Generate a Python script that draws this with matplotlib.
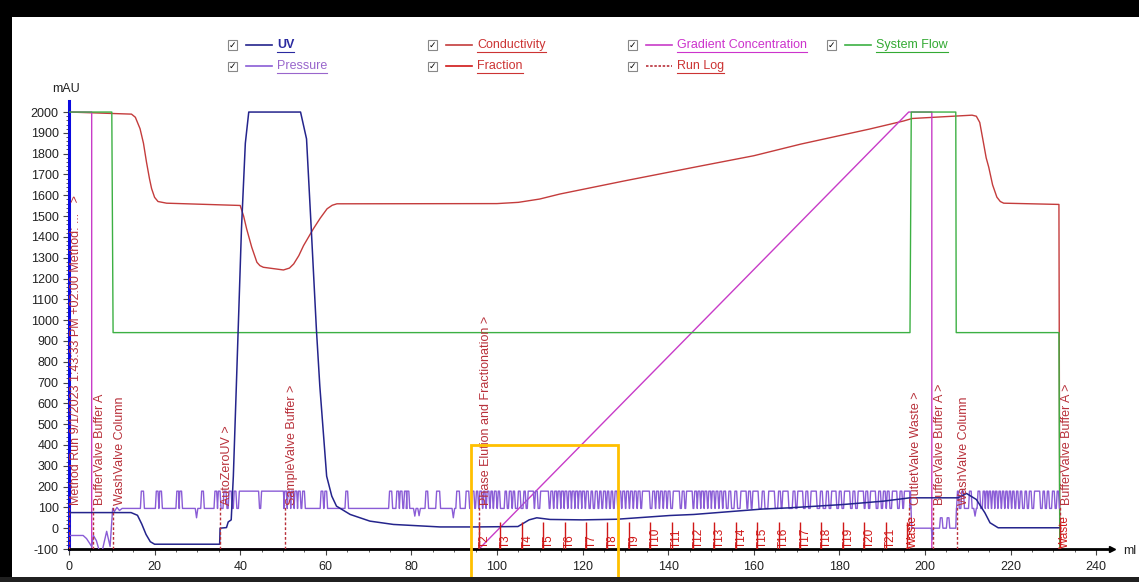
import matplotlib
matplotlib.use("Agg")
import matplotlib.pyplot as plt
from matplotlib.lines import Line2D
from matplotlib.patches import Rectangle

plt.rcParams['font.family'] = ['Liberation Sans', 'DejaVu Sans']
plt.rcParams['axes.unicode_minus'] = False

# ---- data (ml, mAU-scale) ----
uv_ml = [0, 10, 14.5, 16, 17, 18, 19, 20, 35.2, 35.3, 36.8, 37.2, 37.9, 38.4, 39.1, 40.3,
         41.2, 42.0, 54.1, 55.5, 56.6, 57.8, 58.6, 60.2, 61.4, 62.5, 65.7, 70.3, 75.8,
         86.7, 95, 104.9, 107.5, 109.3, 112.4, 120, 128, 140.4, 146, 162, 168.5, 181,
         190.3, 196.5, 207.7, 209.7, 212, 214, 215.2, 217.1, 231.3]
uv_val = [75, 75, 75, 62, 20, -30, -65, -77, -77, 0, 3, 30, 40, 250, 684, 1440,
          1850, 2000, 2000, 1871, 1440, 958, 684, 250, 154, 106, 66, 34, 18,
          6, 6, 8, 40, 50, 42, 40, 43, 61, 66, 92, 98, 114,
          130, 146, 146, 167, 138, 74, 26, 2, 2]

cond_ml = [0, 14.6, 15.5, 16.6, 17.4, 18.1, 18.8, 19.3, 20.0, 20.8, 22.8, 40, 40.8, 41.5,
           42.7, 43.9, 44.6, 45.4, 50.1, 51.5, 52.5, 53.7, 54.8, 57.1, 58.7, 60.3, 61.5,
           62.6, 100, 105, 110, 114.7, 130, 147.4, 160, 171, 187, 195, 197, 211, 212,
           212.8, 213.6, 214.3, 214.9, 215.8, 216.8, 217.6, 218.4, 231.3, 231.5]
cond_val = [2000, 1990, 1975, 1920, 1850, 1760, 1680, 1632, 1590, 1570, 1562, 1551, 1500, 1439,
            1350, 1278, 1262, 1254, 1241, 1250, 1270, 1310, 1358, 1439, 1490, 1535, 1552,
            1559, 1560, 1566, 1582, 1606, 1670, 1740, 1790, 1846, 1918, 1957, 1969, 1985, 1980,
            1950, 1860, 1780, 1735, 1650, 1591, 1570, 1562, 1556, -100]

flow_ml = [0, 10.0, 10.3, 196.5, 196.8, 207.2, 207.3, 231.3, 231.5]
flow_val = [2000, 2000, 940, 940, 2000, 2000, 940, 940, -100]

grad_ml = [0, 5.3, 5.3, 95.8, 196.2, 201.6, 201.6, 231.5]
grad_val = [2000, 2000, -100, -100, 2000, 2000, -100, -100]

# pressure: start of run, then base/high pulses
press_start_ml = [0.3, 3.3, 4.1, 5.3, 5.7, 6.4, 7.1, 7.8, 8.8, 9.6, 10.2, 10.6, 11.2, 11.8, 12.4]
press_start_val = [-35, -35, -50, -88, -35, -60, -110, -105, -15, -88, 95, 80, 100, 85, 95]
press_base, press_high = 95, 178
press_pulses = [
    (16.9, 17.4), (20.4, 20.8), (21.2, 21.6), (25.2, 25.6), (25.9, 26.3), (31.0, 31.4),
    (34.1, 34.5), (34.9, 35.3), (36.2, 36.7), (37.4, 37.9), (38.6, 39.0), (39.8, 44.3),
    (45.0, 50.1), (50.4, 50.8), (51.2, 51.6), (52.0, 52.4), (52.8, 53.2), (53.6, 54.0),
    (54.6, 55.0), (58.9, 59.3), (59.8, 60.2), (64.7, 65.1), (74.9, 75.4), (76.6, 77.0),
    (77.4, 77.8), (78.4, 78.8), (79.0, 79.4), (83.4, 83.8), (85.9, 86.6), (90.6, 91.2),
    (92.8, 93.4), (94.2, 94.6), (95.2, 95.5), (96.0, 96.4), (96.9, 97.2), (97.7, 98.1),
    (98.6, 98.9), (99.4, 99.8), (100.3, 100.6), (101.9, 102.2), (102.9, 103.3),
    (103.8, 104.1), (105.0, 105.4), (106.3, 106.6), (107.3, 108.5), (109.0, 109.4),
    (110.2, 112.0), (112.6, 113.0), (113.5, 113.9), (114.3, 114.7), (115.1, 115.5),
    (115.9, 116.3), (116.8, 117.2), (117.6, 118.0), (118.4, 118.8), (119.2, 119.6),
    (120.0, 120.4), (120.9, 121.3), (122.0, 122.3), (123.0, 123.4), (124.0, 124.3),
    (124.9, 125.3), (125.8, 126.1), (126.7, 127.0), (127.6, 128.0), (128.5, 128.9),
    (129.4, 129.8), (130.3, 130.7), (131.2, 131.6), (132.1, 132.5), (133.0, 133.4),
    (134.0, 135.6), (136.4, 136.8), (137.3, 137.7), (138.2, 138.6), (139.1, 139.5),
    (140.0, 140.4), (141.2, 142.6), (143.3, 143.7), (144.3, 145.6), (146.2, 146.6),
    (147.0, 147.4), (147.8, 148.2), (148.6, 149.0), (149.5, 149.9), (150.3, 150.7),
    (151.2, 151.6), (152.1, 152.5), (153.0, 153.4), (154.2, 154.6), (155.6, 156.0),
    (157.0, 158.2), (158.8, 159.2), (159.8, 161.0), (162.0, 162.4), (163.5, 164.8),
    (165.8, 166.2), (166.8, 168.0), (169.2, 169.6), (170.3, 171.4), (172.2, 172.6),
    (173.4, 174.6), (175.6, 176.0), (177.0, 177.4), (178.2, 179.2), (180.0, 180.4),
    (181.2, 182.4), (183.2, 183.6), (184.4, 185.6), (186.2, 186.6), (187.3, 188.4),
    (189.2, 189.6), (190.3, 190.7), (191.2, 191.6), (192.4, 193.4), (194.2, 194.6),
    (195.2, 196.4),
]
press_dips = [(29.8, 50), (80.8, 58), (81.8, 60), (89.8, 50)]
# wash section, pressure drops
press_wash_ml = [196.6, 196.9, 201.5, 201.7, 201.9, 203.4, 203.6, 204.0, 204.2, 205.0, 205.2,
                 205.6, 205.8, 207.2, 207.35]
press_wash_val = [178, 0, 0, -55, 0, 0, 50, 50, 0, 0, 50, 50, 0, 0, 95]
press_pulses_2 = [
    (207.6, 207.8), (208.6, 209.0), (210.4, 210.8), (212.4, 212.8), (213.6, 213.9),
    (214.3, 214.6), (215.0, 215.3), (215.8, 216.1), (216.5, 216.8), (217.3, 217.6),
    (218.1, 218.4), (218.9, 219.2), (219.7, 220.0), (220.5, 220.8), (221.4, 221.7),
    (222.3, 222.6), (223.4, 223.7), (224.4, 224.8), (225.6, 226.8), (227.6, 227.9),
    (228.6, 228.9), (229.8, 230.2), (230.9, 231.2),
]
press_dips_2 = [(211.7, 58)]

frac_ml = [95.8, 100.8, 105.8, 110.8, 115.8, 120.8, 125.8, 130.8, 135.8, 140.8, 145.8,
           150.8, 155.8, 160.8, 165.8, 170.8, 175.8, 180.8, 185.8, 190.8, 195.8, 231.5]
frac_labels = ['T2', 'T3', 'T4', 'T5', 'T6', 'T7', 'T8', 'T9', 'T10', 'T11', 'T12', 'T13',
               'T14', 'T15', 'T16', 'T17', 'T18', 'T19', 'T20', 'T21', 'Waste', 'Waste']

log_ml = [0.0, 5.5, 10.2, 35.3, 50.5, 95.8, 196.3, 201.8, 207.5, 231.5]
log_text = ['Method Run 9/1/2023 1:43:33 PM +02:00 Method: ...   >',
            'BufferValve Buffer A', 'WashValve Column', 'AutoZeroUV >',
            'SampleValve Buffer >', 'Phase Elution and Fractionation >',
            'OutletValve Waste >', 'BufferValve Buffer A >', 'WashValve Column',
            'BufferValve Buffer A >']

highlight = (94.0, 128.2, 400)  # ml from, ml to, top mAU

c_uv = '#24248c'
c_cond = '#c43c3c'
c_flow = '#3cb043'
c_grad = '#c83cc8'
c_press = '#8a5cd6'
c_frac = '#d01818'
c_log = '#b8303a'


def pulse_curve(pulses, dips, x0, x1):
    # square-ish pressure pulses with sloped sides
    ev = []
    for a, b in pulses:
        ev.append((a, [(a - 0.22, press_base), (a, press_high), (b, press_high), (b + 0.22, press_base)]))
    for c, v in dips:
        ev.append((c - 0.3, [(c - 0.3, press_base), (c, v), (c + 0.3, press_base)]))
    ev.sort(key=lambda e: e[0])
    pts = [(x0, press_base)]
    for _, p in ev:
        pts.extend(p)
    pts.append((x1, press_base))
    return [p[0] for p in pts], [p[1] for p in pts]


xa, ya = pulse_curve(press_pulses, press_dips, 12.4, 196.5)
xb, yb = pulse_curve(press_pulses_2, press_dips_2, 207.35, 231.5)
press_ml = press_start_ml + xa + press_wash_ml + xb
press_val = press_start_val + ya + press_wash_val + yb

W, H = 1139, 582
fig = plt.figure(figsize=(W / 100, H / 100), dpi=100)
fig.patch.set_facecolor('white')
ax = fig.add_axes([69 / W, 1 - 549 / H, (1112 - 69) / W, (549 - 100.6) / H])
ax.set_xlim(0, 243.7)
ax.set_ylim(-100, 2055)

ax.plot(cond_ml, cond_val, color=c_cond, lw=1.0, zorder=2)
ax.plot(grad_ml, grad_val, color=c_grad, lw=1.0, zorder=2)
ax.plot(flow_ml, flow_val, color=c_flow, lw=1.0, zorder=3)
ax.plot(press_ml, press_val, color=c_press, lw=1.0, zorder=4)
ax.plot(uv_ml, uv_val, color=c_uv, lw=1.1, zorder=5)

# fractions
ax.vlines(frac_ml, -100, 30, color=c_frac, lw=1.0, zorder=6)
for x, t in zip(frac_ml, frac_labels):
    ax.text(x + 1.3, -96, t, rotation=90, ha='center', va='bottom', fontsize=8.5,
            color=c_frac, zorder=7)

# run log
ax.vlines(log_ml, -100, 110, color=c_log, lw=1.0, linestyles=(0, (2, 1.5)), zorder=6)
for x, t in zip(log_ml, log_text):
    ax.text(x + 1.7, 112, t, rotation=90, ha='center', va='bottom', fontsize=9,
            color=c_log, zorder=7)

# highlight box
ax.add_patch(Rectangle((highlight[0], -300), highlight[1] - highlight[0], highlight[2] + 300,
                       fill=False, edgecolor='#ffc000', lw=2.0, clip_on=False, zorder=10))

# axes styling
for s in ('top', 'right'):
    ax.spines[s].set_visible(False)
ax.spines['left'].set_color('#0a0ae0')
ax.spines['left'].set_linewidth(2.2)
ax.spines['bottom'].set_color('black')
ax.spines['bottom'].set_linewidth(2.0)
ax.set_xticks(range(0, 241, 20))
ax.set_xticks(range(0, 241, 5), minor=True)
ax.set_yticks(range(-100, 2001, 100))
ax.set_yticks(range(-100, 2001, 20), minor=True)
ax.tick_params(axis='both', which='major', labelsize=9, colors='#444444', length=4,
               width=0.8, labelcolor='#222222')
ax.tick_params(axis='both', which='minor', colors='#444444', length=2, width=0.6)
ax.tick_params(axis='x', pad=5)
ax.plot(1, 0, '>', color='black', markersize=5, transform=ax.transAxes, clip_on=False)
fig.text(1130 / W, 1 - 551 / H, 'ml', ha='center', va='center', fontsize=9, color='#222222')
fig.text(66 / W, 1 - 89 / H, 'mAU', ha='center', va='center', fontsize=9, color='#222222')

# legend (Unicorn style, checkbox + line + underlined label)
leg_items = [
    (232, 45, c_uv, '-', 'UV', '#2a2aa0', 'bold'),
    (432, 45, c_cond, '-', 'Conductivity', '#cc3333', 'normal'),
    (632, 45, c_grad, '-', 'Gradient Concentration', '#cc33cc', 'normal'),
    (831, 45, c_flow, '-', 'System Flow', '#33aa33', 'normal'),
    (232, 66, c_press, '-', 'Pressure', '#9966cc', 'normal'),
    (432, 66, c_frac, '-', 'Fraction', '#cc3333', 'normal'),
    (632, 66, c_log, '--', 'Run Log', '#cc3333', 'normal'),
]
texts = []
for px, py, lc, ls, lab, tc, fw in leg_items:
    fig.patches.append(Rectangle(((px - 4.5) / W, 1 - (py + 4.5) / H), 9 / W, 9 / H,
                                 transform=fig.transFigure, facecolor='white',
                                 edgecolor='#888888', lw=0.8))
    fig.text(px / W, 1 - py / H, '\u2713', ha='center', va='center', fontsize=6.5,
             color='black', family='DejaVu Sans', fontweight='bold')
    fig.lines.append(Line2D([(px + 14) / W, (px + 40) / W], [1 - py / H, 1 - py / H],
                            transform=fig.transFigure, color=lc, lw=1.2,
                            linestyle=(0, (1.5, 1)) if ls == '--' else '-'))
    t = fig.text((px + 45) / W, 1 - py / H, lab, ha='left', va='center', fontsize=9,
                 color=tc, fontweight=fw)
    texts.append((t, tc))

fig.canvas.draw()
for t, tc in texts:
    bb = t.get_window_extent()
    yline = bb.y0 - 0.5
    fig.lines.append(Line2D([bb.x0 / W, bb.x1 / W], [yline / H, yline / H],
                            transform=fig.transFigure, color=tc, lw=0.8))

# screenshot frame
fig.patches.append(Rectangle((0, 1 - 17 / H), 1, 17 / H, transform=fig.transFigure,
                             facecolor='black', edgecolor='none', zorder=20))
fig.patches.append(Rectangle((0, 0), 12 / W, 1, transform=fig.transFigure,
                             facecolor='black', edgecolor='none', zorder=20))
fig.patches.append(Rectangle((0, 0), 1, 5 / H, transform=fig.transFigure,
                             facecolor='#202020', edgecolor='none', zorder=20))

fig.savefig('out.png', dpi=100)
